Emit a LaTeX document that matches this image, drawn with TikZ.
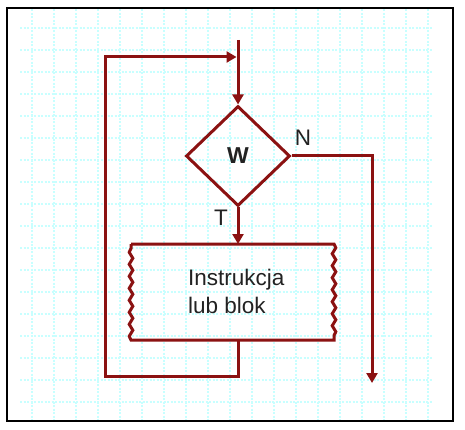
\documentclass[tikz,border=0pt]{standalone}
\usepackage{fontspec}
\setmainfont{Liberation Sans}
\usetikzlibrary{shapes.geometric,arrows.meta,decorations.pathmorphing}
\definecolor{flow}{RGB}{139,18,18}
\definecolor{gridc}{RGB}{200,255,255}
\definecolor{txtc}{RGB}{34,34,34}
\begin{document}
\begin{tikzpicture}[x=1pt,y=-1pt,
  flowline/.style={draw=flow,line width=3pt},
  tipend/.style={-{Triangle[length=10pt,width=11pt]}},
  gridline/.style={draw=gridc,line width=1.5pt,dash pattern=on 2pt off 1.5pt},
  lbl/.style={font=\fontsize{22.5}{28}\selectfont,text=txtc,inner sep=0pt},
  decision/.style={diamond,draw=flow,line width=3pt,minimum width=104pt,minimum height=100pt,inner sep=0pt,text=txtc,font=\bfseries\fontsize{23}{28}\selectfont},
  blockbox/.style={minimum width=203pt,minimum height=96pt,inner sep=0pt,outer sep=0pt},
  snakeside/.style={decoration={snake,segment length=12pt,amplitude=1.8pt}}
]
\fill[white] (0,0) rectangle (465,430);
\useasboundingbox (0,0) rectangle (465,430);
% grid
\foreach \i in {0,...,18} \draw[gridline] ({32+22*\i},9.5) -- ({32+22*\i},420);
\foreach \j in {0,...,17} \draw[gridline] (20,{28+22*\j}) -- (432,{28+22*\j});
% frame
\draw[black,line width=2pt] (7,8) rectangle (453,421);
% nodes
\node[decision] (d) at (238,156) {W};
\node[blockbox] (blk) at (232.5,292) {};
\node[lbl,align=left,anchor=west] (txt) at (188,291) {Instrukcja\\lub blok};
\node[lbl] (T) at (221,218) {T};
\node[lbl] (N) at (303,138) {N};
\coordinate (in) at (238,40);
\coordinate (lb) at (105,376);
\coordinate (lt) at (105,57);
\coordinate (out) at (372,383);
% block outline
\draw[flowline] (blk.north west) -- (blk.north east)
  decorate[snakeside]{-- (blk.south east)} -- (blk.south west)
  decorate[snakeside]{-- (blk.north west)} -- cycle;
% connectors
\draw[flowline,tipend] (in) -- (d.north);
\draw[flowline,tipend] (d.south) -- (d.south |- blk.north);
\draw[flowline,tipend] (d.east) -- (d.east -| out) -- (out);
\draw[flowline,tipend,shorten >=1.5pt] (d.south |- blk.south) -- (d.south |- lb) -- (lb) -- (lt) -- (lt -| d.north);
\end{tikzpicture}
\end{document}
